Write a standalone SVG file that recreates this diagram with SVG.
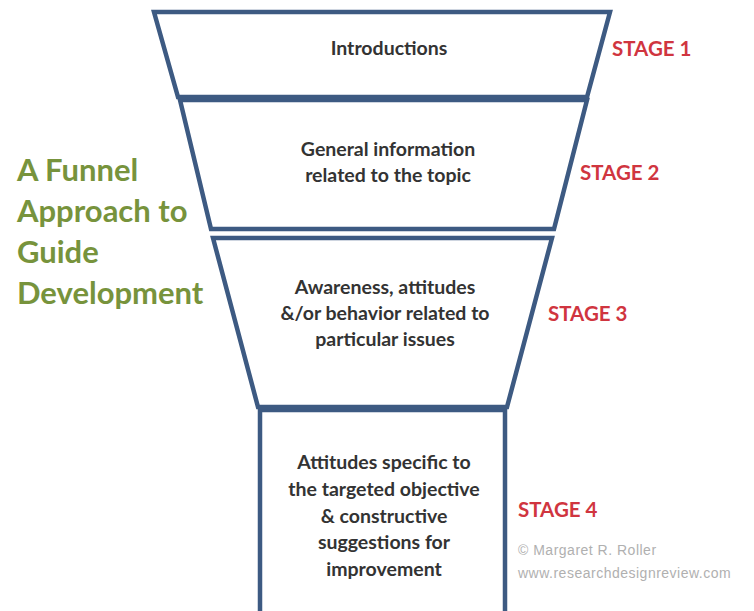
<svg xmlns="http://www.w3.org/2000/svg" width="754" height="611" viewBox="0 0 754 611">
<style>
.shape{fill:#ffffff;stroke:#3d5a82;stroke-width:4.5;stroke-linejoin:miter}
.t{font-family:Lato,"Liberation Sans",sans-serif;font-weight:bold;font-size:19.5px;fill:#333333;text-anchor:middle}
.stage{font-family:Lato,"Liberation Sans",sans-serif;font-weight:bold;font-size:20.5px;fill:#d0353f}
.title{font-family:Lato,"Liberation Sans",sans-serif;font-weight:bold;font-size:31px;fill:#77933c}
.copy{font-family:"Liberation Sans",sans-serif;font-size:14px;fill:#b0b0b0;letter-spacing:0.5px}
</style>
<rect width="754" height="611" fill="#ffffff"/>
<g id="title">
<text class="title" x="17" y="181">A Funnel</text>
<text class="title" x="17" y="222">Approach to</text>
<text class="title" x="17" y="263">Guide</text>
<text class="title" x="17" y="304">Development</text>
</g>
<g id="stage4">
<path class="shape" d="M260,410 L505,410 L505,615 L260,615 Z"/>
<text class="t" x="384" y="469">Attitudes specific to</text>
<text class="t" x="384" y="496">the targeted objective</text>
<text class="t" x="384" y="523">&amp; constructive</text>
<text class="t" x="384" y="549">suggestions for</text>
<text class="t" x="384" y="576">improvement</text>
</g>
<g id="stage3">
<path class="shape" d="M213,238 L552,238 L507,407 L258,407 Z"/>
<text class="t" x="385" y="294">Awareness, attitudes</text>
<text class="t" x="385" y="320">&amp;/or behavior related to</text>
<text class="t" x="385" y="346">particular issues</text>
</g>
<g id="stage2">
<path class="shape" d="M180,100 L587,100 L554,229 L211,229 Z"/>
<text class="t" x="388" y="156">General information</text>
<text class="t" x="388" y="182">related to the topic</text>
</g>
<g id="stage1">
<path class="shape" d="M154,12 L610,12 L587,97 L178,97 Z"/>
<text class="t" x="389" y="55">Introductions</text>
</g>
<g id="labels">
<text class="stage" x="612" y="56">STAGE 1</text>
<text class="stage" x="580" y="180">STAGE 2</text>
<text class="stage" x="548" y="321">STAGE 3</text>
<text class="stage" x="518" y="517">STAGE 4</text>
</g>
<g id="copyright">
<text class="copy" x="518" y="555">© Margaret R. Roller</text>
<text class="copy" x="518" y="578">www.researchdesignreview.com</text>
</g>
<g id="connectors"/>
</svg>
